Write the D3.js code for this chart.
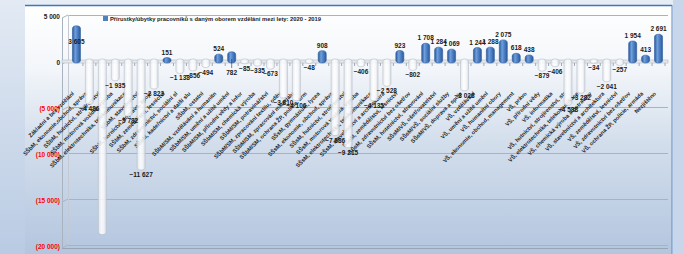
<!DOCTYPE html>
<html>
<head>
<meta charset="utf-8">
<script src="https://cdn.jsdelivr.net/npm/d3@7"></script>
<style>
  html, body { margin: 0; padding: 0; background: #e4ebf4; }
  svg { display: block; font-family: "Liberation Sans", Arial, sans-serif; }
  .grid-line { stroke: #a9b3bf; stroke-width: 1; }
</style>
</head>
<body>
<svg id="chart"></svg>
<script>
// kategorie (obory vzdělání)
let categories = [
  "Základní a bez vzdělání",
  "SŠbM, ekonomie,obchod, správa",
  "SŠbM, hutnictví, strojírenství",
  "SŠbM, motorová vozidla, výroba",
  "SŠbM, elektrotechnika, telekomunikace",
  "SŠbM, stavebnictví",
  "SŠbM, hornictví, doprava, spoje",
  "SŠbM, zemědělství, lesnictví",
  "SŠbM, zdravotnictví, sociální sl",
  "SŠbM, kadeřnictví a další slu",
  "SŠbM, ostatní",
  "SŠbM/SM, vzdělávání a humanitn",
  "SŠbM/SM, umění a užité umění",
  "SŠbM/SM, přírodní vědy a infor",
  "SŠbM/SM, chemická výroba",
  "SŠbM/SM, potravinářství",
  "SŠbM/SM, zpracování textilu, oděv",
  "SŠbM/SM, zpracování materiálu",
  "SŠbM/SM, ochrana ŽP, policie, arm",
  "SŠsM, gymnázium, lycea",
  "SŠsM, ekonomie, obchod, správa",
  "SŠsM, hutnictví, strojírenství",
  "SŠsM, motorová vozidla, výroba",
  "SŠsM, elektrotechnika, telekomunikace",
  "SŠsM, stavebnictví a architektura",
  "SŠsM, zemědělství, lesnictví",
  "SŠsM, zdravotnictví bez ošetřov",
  "SŠsM, hotelnictví, stravování",
  "SŠsM/VŠ, ošetřovatelství",
  "SŠsM/VŠ, sociální služby",
  "SŠsM/VŠ, doprava a spoje",
  "VŠ, vzdělávání",
  "VŠ, umění a užité umění",
  "VŠ, humanitní obory",
  "VŠ, ekonomie, obchod, management",
  "VŠ, právo",
  "VŠ, přírodní vědy",
  "VŠ, informatika",
  "VŠ, hutnictví, strojírenství, str",
  "VŠ, elektrotechnika, telekomunikace",
  "VŠ, chemická výroba a potraviny",
  "VŠ, stavebnictví a architektura",
  "VŠ, zemědělství, lesnictví",
  "VŠ, zdravotnictví bez ošetřov",
  "VŠ, ochrana ŽP, policie, armáda",
  "Nezjištěno"
];

// přírůstky/úbytky 2020 - 2019
let values = [
  3605, -4486, -18650, -1935, -5782, -11627, -2823, 151, -1138, -856,
  -494, 524, 782, -85, -335, -673, -3810, -4106, -48, 908,
  -7886, -9215, -406, -4135, -2528, 923, -802, 1708, 1284, 1069,
  -3028, 1244, 1288, 2075, 618, 438, -879, -406, -4588, -3282,
  -34, -2041, -257, 1954, 413, 2691
];

let yTicks = [5000, 0, -5000, -10000, -15000, -20000];
let seriesName = "Přírustky/úbytky pracovníků s daným oborem vzdělání mezi lety: 2020 - 2019";

let width = 683;
let height = 254;

let cz = d3.formatLocale({ decimal: ",", thousands: " ", grouping: [3], currency: ["", ""] });
let fmt = cz.format(",d");
let fmtTick = function(d) { return d < 0 ? "(" + fmt(-d) + ")" : fmt(d); };

let svg = d3.select("#chart").attr("width", width).attr("height", height);
let defs = svg.append("defs");

function grad(id, stops, vertical) {
  let g = defs.append("linearGradient").attr("id", id)
    .attr("x1", 0).attr("y1", 0)
    .attr("x2", vertical ? 0 : 1).attr("y2", vertical ? 1 : 0);
  stops.forEach(s => g.append("stop").attr("offset", s[0]).attr("stop-color", s[1]));
}
grad("bgPanel", [[0, "#ffffff"], [0.25, "#f3f6fa"], [0.55, "#d3deec"], [1, "#b3c6df"]], true);
grad("bgLeft", [[0, "#e3eaf4"], [1, "#b9cbe3"]], true);
grad("barPos", [[0, "#27589a"], [0.35, "#6f9fdc"], [0.6, "#4f82c6"], [1, "#2a5a9c"]], false);
grad("barNeg", [[0, "#e6e9ee"], [0.4, "#ffffff"], [0.7, "#f7f8fa"], [1, "#d6dae0"]], false);

// pozadí
svg.append("rect").attr("width", width).attr("height", height).attr("fill", "#e7edf5");
svg.append("rect").attr("x", 0).attr("y", 0).attr("width", 25).attr("height", height).attr("fill", "url(#bgLeft)");
svg.append("rect").attr("x", 25).attr("y", 6).attr("width", 647).attr("height", height - 6).attr("fill", "url(#bgPanel)");
svg.append("line").attr("x1", 25).attr("x2", 672).attr("y1", 5.5).attr("y2", 5.5)
  .attr("stroke", "#3f77b8").attr("stroke-width", 1.5);
svg.append("line").attr("x1", 672).attr("x2", 672).attr("y1", 5).attr("y2", height)
  .attr("stroke", "#5d8bc3").attr("stroke-width", 1);
svg.append("rect").attr("x", 673).attr("y", 0).attr("width", 10).attr("height", height).attr("fill", "#c7d6ea");

// škály
let scaleX = d3.scaleBand().domain(categories).range([70, 665]).paddingInner(0.38).paddingOuter(0.19);
let scaleY = d3.scaleLinear().domain([-20000, 5000]).range([245, 15]);

// mřížka
let gridX1 = 68, gridX2 = 668;
svg.append("g")
  .selectAll("line")
  .data(yTicks)
  .enter()
  .append("line")
  .classed("grid-line", true)
  .attr("x1", gridX1).attr("x2", gridX2)
  .attr("y1", d => Math.round(scaleY(d)) + 0.5)
  .attr("y2", d => Math.round(scaleY(d)) + 0.5);
// 3D hloubka stěny
svg.append("g")
  .selectAll("line")
  .data(yTicks)
  .enter()
  .append("line")
  .attr("stroke", "#a9b3bf")
  .attr("x1", 62).attr("x2", gridX1)
  .attr("y1", d => scaleY(d) + 3).attr("y2", d => scaleY(d));
svg.append("line").attr("x1", 62.5).attr("x2", 62.5)
  .attr("y1", scaleY(5000) + 3).attr("y2", scaleY(-20000) + 3).attr("stroke", "#a9b3bf");
svg.append("line").attr("x1", gridX1 + 0.5).attr("x2", gridX1 + 0.5)
  .attr("y1", scaleY(5000)).attr("y2", scaleY(-20000)).attr("stroke", "#c3cad3");
// spodní hrana podlahy
svg.append("line").attr("x1", 62).attr("x2", gridX2)
  .attr("y1", scaleY(-20000) + 3.5).attr("y2", scaleY(-20000) + 3.5).attr("stroke", "#9aa5b2");

// osa Y
let axisY = d3.axisLeft(scaleY).tickValues(yTicks).tickFormat(fmtTick).tickSize(0).tickPadding(1);
let gY = svg.append("g")
  .attr("transform", `translate(61, 1)`)
  .call(axisY);
gY.select(".domain").remove();
gY.selectAll("text")
  .style("font-size", "6.5px")
  .style("font-weight", "bold")
  .attr("fill", d => d < 0 ? "#ff0000" : "#1a1a1a");

// nulová podlaha s kategoriemi
let y0 = scaleY(0);
svg.append("rect").attr("x", 62).attr("y", y0 - 1).attr("width", gridX2 - 62).attr("height", 3)
  .attr("fill", "#e4e8ee").attr("stroke", "#b4bcc6").attr("stroke-width", 0.6);
let axisX = d3.axisBottom(scaleX).tickSize(3).tickFormat("");
let gX = svg.append("g").attr("transform", `translate(0, ${y0 + 2})`).call(axisX);
gX.select(".domain").remove();
gX.selectAll(".tick line")
  .attr("stroke", "#a0a8b3")
  .attr("transform", `translate(${scaleX.step() / 2}, 0)`);

// popisky kategorií
svg.append("g")
  .selectAll("text")
  .data(categories)
  .enter()
  .append("text")
  .attr("transform", d => `translate(${scaleX(d) + scaleX.bandwidth() / 2 - 2}, 94) rotate(-45)`)
  .attr("text-anchor", "end")
  .style("font-size", "5.6px")
  .style("font-weight", "bold")
  .attr("fill", "#1e1e1e")
  .text(d => d);

// sloupce (válce)
let bw = scaleX.bandwidth();
let barData = categories.map((c, i) => ({ label: c, value: values[i] }));
svg.append("g")
  .selectAll("rect")
  .data(barData)
  .enter()
  .append("rect")
  .attr("x", d => scaleX(d.label))
  .attr("width", bw)
  .attr("y", d => Math.min(scaleY(d.value), y0) - 2)
  .attr("height", d => Math.abs(scaleY(d.value) - y0) + 4)
  .attr("rx", bw / 2)
  .attr("ry", 3)
  .attr("fill", d => d.value >= 0 ? "url(#barPos)" : "url(#barNeg)")
  .attr("fill-opacity", d => d.value >= 0 ? 1 : 0.85)
  .attr("stroke", d => d.value >= 0 ? "#2d5d9c" : "#b5bcc6")
  .attr("stroke-width", 0.6);

// popisky hodnot
let below = ["SŠbM/SM, umění a užité umění"];
svg.append("g")
  .selectAll("text")
  .data(barData.filter(d => d.value > -15000))
  .enter()
  .append("text")
  .attr("x", d => scaleX(d.label) + bw / 2)
  .attr("y", function(d) {
    if (below.includes(d.label)) return y0 + 14;
    if (d.value >= 0) {
      let yy = scaleY(d.value) - 5;
      // nad horní hranou grafu se popisek vejde jen dovnitř válce
      return yy < 26 ? scaleY(d.value) + 16 : yy;
    }
    return scaleY(d.value) + 9;
  })
  .attr("text-anchor", "middle")
  .style("font-size", "6.5px")
  .style("font-weight", "bold")
  .attr("fill", "#1a1a1a")
  .text(d => fmt(d.value));
// vodicí čára
barData.filter(d => below.includes(d.label)).forEach(function(d) {
  svg.append("line")
    .attr("x1", scaleX(d.label) + bw / 2).attr("x2", scaleX(d.label) + bw / 2)
    .attr("y1", y0 - 2).attr("y2", y0 + 7)
    .attr("stroke", "#333").attr("stroke-width", 0.6);
});

// legenda
let legend = svg.append("g").attr("transform", "translate(103, 16)");
legend.append("rect").attr("width", 5).attr("height", 5).attr("fill", "#4f81bd");
legend.append("text").attr("x", 7).attr("y", 5)
  .style("font-size", "5.8px")
  .style("font-weight", "bold")
  .attr("fill", "#1a1a1a")
  .text(seriesName);
</script>
</body>
</html>
